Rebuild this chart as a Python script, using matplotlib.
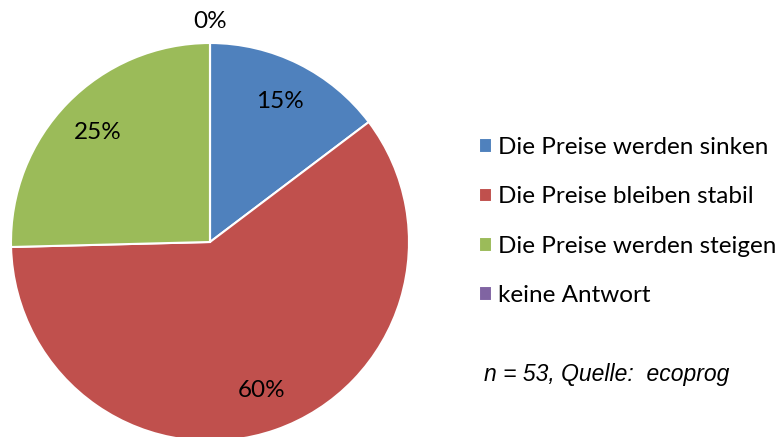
import matplotlib
matplotlib.use('Agg')
import matplotlib.pyplot as plt

# Antworten in Prozent (n = 53)
categories = ['Die Preise werden sinken', 'Die Preise bleiben stabil',
              'Die Preise werden steigen', 'keine Antwort']
shares = [14.7, 59.9, 25.4, 0.0]
colors = ['#4F81BD', '#C0504D', '#9BBB59', '#8064A2']

plt.rcParams['font.family'] = ['Lato', 'DejaVu Sans']

fig = plt.figure(figsize=(7.79, 4.37), dpi=100)
ax = fig.add_axes([11 / 779, -4 / 437, 398 / 779, 398 / 437])


def pct_label(p):
    return '' if p < 0.5 else f'{p:.0f}%'


outer = ['0%' if s == 0 else '' for s in shares]
wedges, texts, autotexts = ax.pie(shares, colors=colors, startangle=90, counterclock=False,
                                  autopct=pct_label, pctdistance=0.79,
                                  labels=outer, labeldistance=1.11,
                                  wedgeprops=dict(edgecolor='white', linewidth=1.5),
                                  textprops=dict(fontsize=17.5, color='black'))
for t in texts:
    t.set_ha('center')
ax.set_xlim(-1, 1)
ax.set_ylim(-1, 1)
ax.set_aspect('equal')
ax.axis('off')

leg = fig.legend(wedges, categories, loc='upper left', bbox_to_anchor=(479 / 779, 1 - 137 / 437),
                 frameon=False, fontsize=17.5, handlelength=0.55, handleheight=0.55,
                 handletextpad=0.25, labelspacing=1.17, borderpad=0, borderaxespad=0)

fig.text(484 / 779, 1 - 375 / 437, 'n = 53, Quelle:  ecoprog', fontsize=16.5, style='italic',
         family='Liberation Sans', va='center', ha='left')

fig.savefig('out.png', dpi=100)
